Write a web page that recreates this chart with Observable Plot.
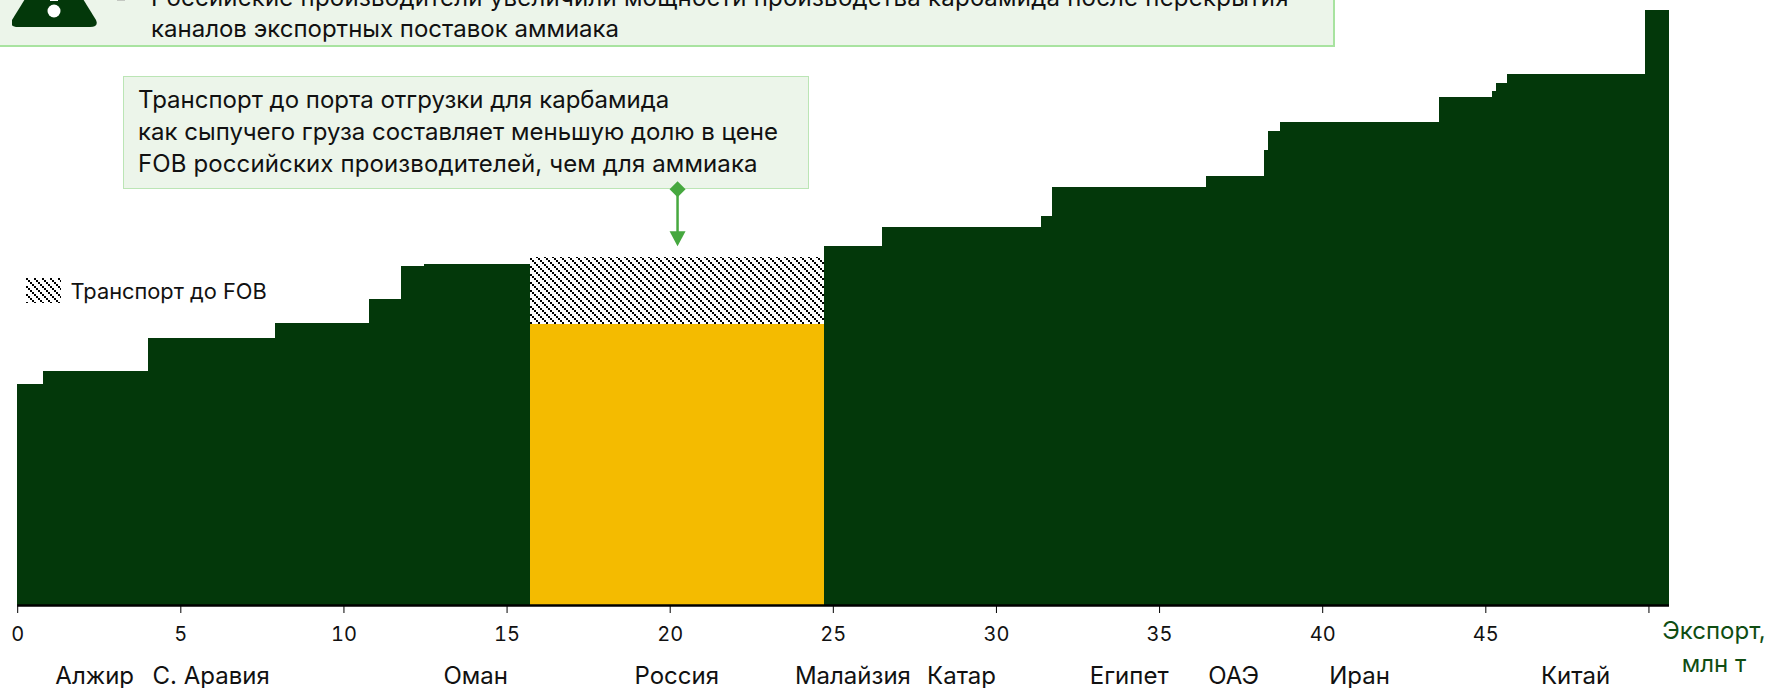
<!DOCTYPE html>
<html><head><meta charset="utf-8">
<script src="https://cdn.jsdelivr.net/npm/d3@7"></script>
<script src="https://cdn.jsdelivr.net/npm/@observablehq/plot@0.6"></script>
<style>
html,body{margin:0;padding:0;background:#fff;overflow:hidden}
#wrap{position:relative;width:1770px;height:688px;font-family:Inter,sans-serif;overflow:hidden}
.box{position:absolute;box-sizing:border-box;background:#ecf5ea;color:#111;font-size:24px;line-height:32px;white-space:nowrap}
svg text{font-family:Inter,sans-serif}
</style></head><body><div id="wrap"></div>
<script>
const xEdges=[0,0.79,4.01,7.9,10.78,11.77,12.48,15.72,24.73,26.51,31.39,31.72,36.44,38.22,38.35,38.71,43.59,45.21,45.34,45.65,49.9,50.63];
const costs=[221,234,267,282,306,339,341,281,359,378,389,418,429,455,474,483,508,514,522,531,595];
const russiaIndex=7;
const russiaTransport=67;
const xTicks=[0,5,10,15,20,25,30,35,40,45,50];
const countries=["Алжир","С. Аравия","Оман","Россия","Малайзия","Катар","Египет","ОАЭ","Иран","Китай"];
const countryX=[2.36,5.93,14.04,20.2,25.6,28.93,34.07,37.27,41.13,47.75];

const steps=costs.map((c,i)=>({x1:xEdges[i],x2:xEdges[i+1],y:c,russia:i===russiaIndex}));
const r=steps[russiaIndex];
const arrowX=(r.x1+r.x2)/2;
const arrowFrom=416, arrowTo=359;
const triangle={draw(c){c.moveTo(-8,-15);c.lineTo(8,-15);c.lineTo(0,0);c.closePath();}};
const diamond={draw(c){c.moveTo(0,-8);c.lineTo(8,0);c.lineTo(0,8);c.lineTo(-8,0);c.closePath();}};
const G="#03380a",A="#46a83f";
const chart=Plot.plot({
  width:1770,height:688,marginLeft:0,marginRight:0,marginTop:0,marginBottom:0,
  x:{domain:[0,50.63],range:[17.2,1669]},
  y:{domain:[0,595],range:[604.5,10],axis:null},
  marks:[
    Plot.rectY(steps.filter(d=>!d.russia),{x1:"x1",x2:"x2",y1:0,y2:"y",fill:G,shapeRendering:"crispEdges"}),
    Plot.rectY([r],{x1:"x1",x2:"x2",y1:0,y2:"y",fill:"#f4bb00",shapeRendering:"crispEdges"}),
    Plot.rectY([r],{x1:"x1",x2:"x2",y1:"y",y2:d=>d.y+russiaTransport,fill:"url(#hatch)",shapeRendering:"crispEdges"}),
    Plot.ruleY([0],{x1:0,x2:50.63,stroke:"#000",strokeWidth:2.5,dy:0.5}),
    Plot.axisX({ticks:xTicks,tickSize:8,tickPadding:13,tickFormat:d=>d===50?"":d,fontSize:20,fill:"#111",stroke:"#000",anchor:"bottom",frameAnchor:"bottom",dy:-688+605,label:null}),
    Plot.text(countries,{x:(d,i)=>countryX[i],frameAnchor:"bottom",dy:-5,text:d=>d,fontSize:24,fill:"#111",textAnchor:"middle",lineAnchor:"bottom"}),
    Plot.link([0],{x1:()=>arrowX,x2:()=>arrowX,y1:()=>arrowFrom,y2:()=>arrowTo+10,stroke:A,strokeWidth:2.5}),
    Plot.dot([0],{x:()=>arrowX,y:()=>arrowFrom,symbol:()=>diamond,fill:A,r:5,stroke:null}),
    Plot.dot([0],{x:()=>arrowX,y:()=>arrowTo,symbol:()=>triangle,fill:A,r:5,stroke:null}),
    ()=>{const ns="http://www.w3.org/2000/svg";const d=document.createElementNS(ns,"defs");
      d.innerHTML='<pattern id="hatch" patternUnits="userSpaceOnUse" width="8" height="8"><rect width="8" height="8" fill="#fff"/><path d="M0 0h2v2h-2zM2 2h2v2h-2zM4 4h2v2h-2zM6 6h2v2h-2z" fill="#000"/></pattern>';return d;}
  ]
});
const wrap=document.getElementById("wrap");
chart.style.position="absolute";chart.style.left="0";chart.style.top="0";chart.style.zIndex="2";chart.style.background="none";
wrap.appendChild(chart);
const add=(html,css,cls)=>{const e=document.createElement("div");if(cls)e.className=cls;e.style.cssText=css;e.innerHTML=html;wrap.appendChild(e);return e;};
add("","left:-2px;top:-40px;width:1337px;height:87px;border:2px solid #a8e3a0","box");
add('<span style="letter-spacing:.23px">Российские производители увеличили мощности производства карбамида после перекрытия</span><br>каналов экспортных поставок аммиака',"left:151px;top:-18px;width:1180px;height:62px;background:none;border:none;line-height:31px","box");
add('<svg width="90" height="30" viewBox="0 0 90 30"><path d="M13 -1 L71 -1 L84 20 Q87 27 78 27 L6 27 Q-3 27 0 20 Z" fill="#03380a"/><circle cx="42" cy="11" r="6.5" fill="#fff"/><rect x="38" y="-2" width="8" height="3" fill="#fff"/></svg>',"position:absolute;left:12px;top:0;width:90px;height:30px;line-height:0");
add("","position:absolute;left:117px;top:0;width:8px;height:1px;background:#c4c8c2");
add('Транспорт до порта отгрузки для карбамида<br>как сыпучего груза составляет меньшую долю в цене<br><span style="letter-spacing:.12px">FOB российских производителей, чем для аммиака</span>',"left:123px;top:76px;width:686px;height:113px;border:1.5px solid #bbe5b5;padding:7px 0 0 14px","box");
add('<svg width="35" height="25"><rect width="35" height="25" fill="url(#hatch)" shape-rendering="crispEdges"/></svg>',"position:absolute;left:26px;top:278px;width:35px;height:25px");
add("Транспорт до FOB","position:absolute;left:70.5px;top:277px;font-size:21.8px;line-height:28px;color:#111");
add("Экспорт,<br>млн т","position:absolute;left:1650px;top:614px;width:128px;text-align:center;font-size:24px;line-height:33px;color:#0f4d12");
</script></body></html>
